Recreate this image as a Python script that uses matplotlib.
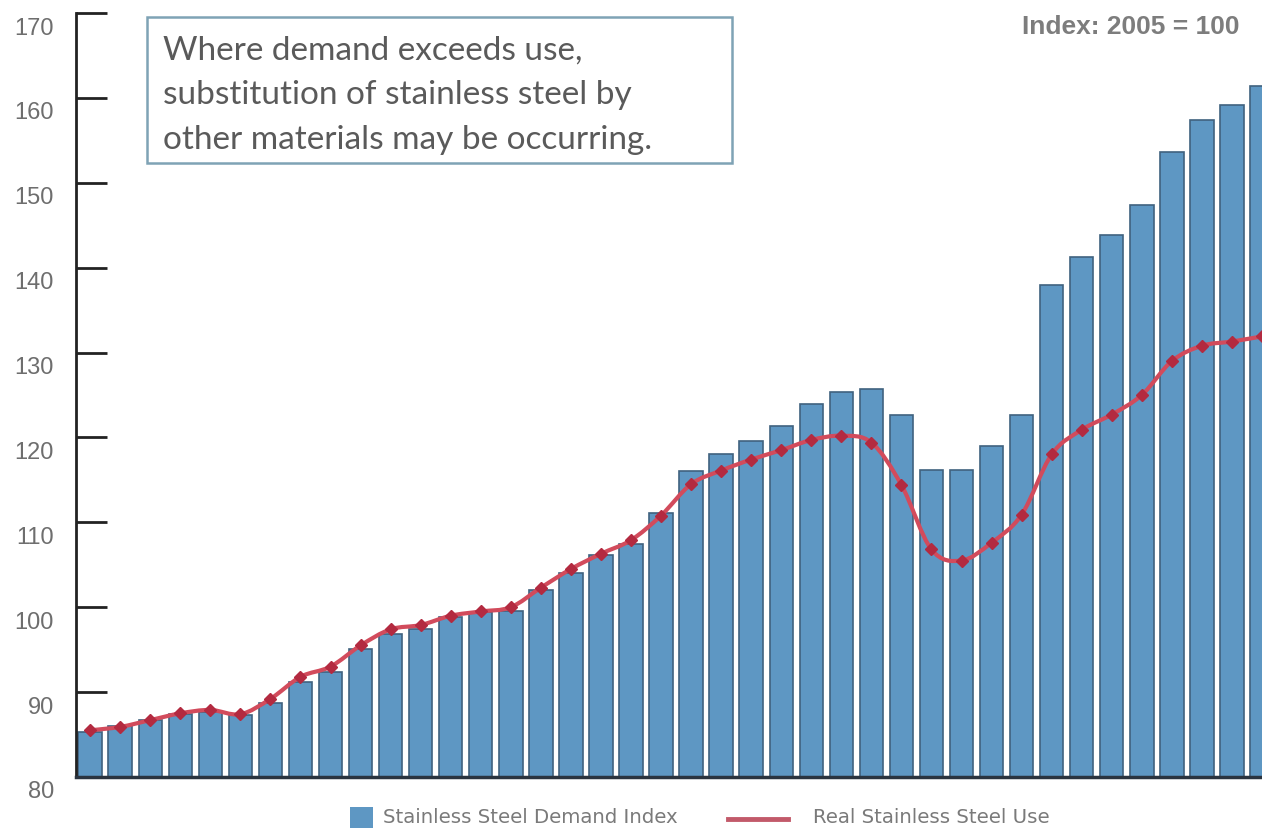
import numpy as np
import matplotlib
matplotlib.use("Agg")
import matplotlib.pyplot as plt
from matplotlib.path import Path
from matplotlib.patches import PathPatch, Rectangle
from matplotlib.transforms import ScaledTranslation

# Stainless steel demand index vs. real use (2005 = 100), one value per period
demand = [85.3, 86.0, 86.7, 87.4, 87.6, 87.3, 88.7, 91.2, 92.4, 95.1,
          96.9, 97.4, 98.8, 99.4, 99.6, 102.0, 104.0, 106.1, 107.4, 111.1,
          116.1, 118.0, 119.6, 121.3, 123.9, 125.3, 125.7, 122.7, 116.2, 116.2,
          119.0, 122.7, 137.9, 141.3, 143.8, 147.4, 153.6, 157.4, 159.2, 161.4]
use = [85.5, 85.9, 86.7, 87.5, 87.9, 87.4, 89.2, 91.8, 93.0, 95.5,
       97.4, 97.9, 99.0, 99.5, 100.0, 102.3, 104.5, 106.3, 107.9, 110.8,
       114.5, 116.1, 117.4, 118.5, 119.7, 120.2, 119.4, 114.4, 106.8, 105.5,
       107.6, 110.9, 118.0, 120.9, 122.7, 125.0, 129.0, 130.8, 131.3, 131.9]
yticks = [80, 90, 100, 110, 120, 130, 140, 150, 160, 170]

W, H = 1262, 829
x = np.arange(len(demand))
y = np.array(use)

fig = plt.figure(figsize=(W / 100, H / 100), dpi=100)
ax = fig.add_axes([76 / W, 1 - 778 / H, 1 - 76 / W, (778 - 14) / H])

ax.bar(x, demand, width=0.78, color="#5e97c3", edgecolor="#40627f",
       linewidth=1.2, zorder=2)

# smooth the use line (catmull-rom through the data points)
verts = [(x[0], y[0])]
codes = [Path.MOVETO]
for i in range(len(x) - 1):
    p0 = np.array([x[max(i - 1, 0)], y[max(i - 1, 0)]])
    p1 = np.array([x[i], y[i]])
    p2 = np.array([x[i + 1], y[i + 1]])
    p3 = np.array([x[min(i + 2, len(x) - 1)], y[min(i + 2, len(x) - 1)]])
    c1 = p1 + (p2 - p0) / 6
    c2 = p2 - (p3 - p1) / 6
    verts += [tuple(c1), tuple(c2), tuple(p2)]
    codes += [Path.CURVE4] * 3
ax.add_patch(PathPatch(Path(verts, codes), fc="none", ec="#d24b5c", lw=3, zorder=3))
ax.plot(x, use, ls="none", marker="D", ms=6, color="#b32a40", zorder=4)

ax.set_xlim(-0.47, 39.0)
ax.set_ylim(80, 170)
ax.set_xticks([])
ax.set_yticks(yticks)
ax.tick_params(axis="y", direction="in", length=22, width=2, color="#222222",
               labelsize=17, labelcolor="#6e6e6e", pad=16)
for lab in ax.get_yticklabels():
    lab.set_transform(lab.get_transform() + ScaledTranslation(0, -0.12, fig.dpi_scale_trans))
    lab.set_fontfamily("Liberation Sans")

for s in ["top", "right"]:
    ax.spines[s].set_visible(False)
ax.spines["left"].set_linewidth(2)
ax.spines["left"].set_color("#222222")
ax.spines["bottom"].set_linewidth(2.5)
ax.spines["bottom"].set_color("#2a3440")

# annotation box
fig.patches.append(Rectangle((147 / W, 1 - 164 / H), (732 - 147) / W, (164 - 18) / H,
                             transform=fig.transFigure, fc="white", ec="#7fa3b5",
                             lw=1.8, zorder=5))
fig.text(163 / W, 1 - 95 / H,
         "Where demand exceeds use,\nsubstitution of stainless steel by\nother materials may be occurring.",
         ha="left", va="center", fontsize=24, family="Lato", color="#5a5a5a",
         linespacing=1.62, zorder=6)

fig.text(1240 / W, 1 - 27 / H, "Index: 2005 = 100", ha="right", va="center",
         fontsize=19, fontweight="bold", color="#7d7d7d", family="Liberation Sans")

# legend
fig.patches.append(Rectangle((350 / W, 1 - 829 / H), 23 / W, 21 / H,
                             transform=fig.transFigure, fc="#5e97c3", ec="none"))
fig.text(383 / W, 1 - 818 / H, "Stainless Steel Demand Index", ha="left", va="center",
         fontsize=14.2, color="#7a7a7a")
fig.add_artist(plt.Line2D([728 / W, 788 / W], [1 - 820 / H, 1 - 820 / H],
                          transform=fig.transFigure, color="#c25a6a", lw=3.5))
fig.text(813 / W, 1 - 818 / H, "Real Stainless Steel Use", ha="left", va="center",
         fontsize=14.2, color="#7a7a7a")

fig.savefig("out.png", dpi=100)
